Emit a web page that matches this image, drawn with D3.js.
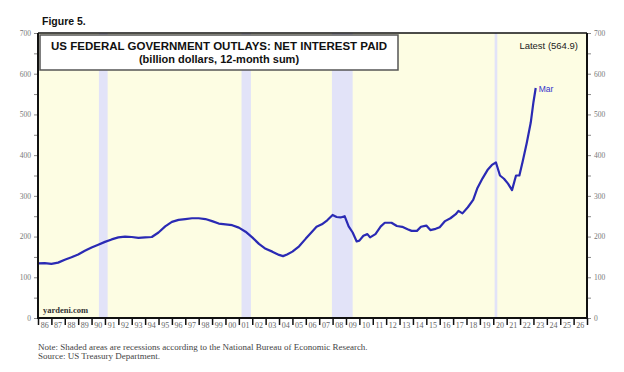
<!DOCTYPE html>
<html>
<head>
<meta charset="utf-8">
<script src="https://cdn.jsdelivr.net/npm/d3@7"></script>
<style>
  body { margin: 0; background: #fff; }
  svg { display: block; }
</style>
</head>
<body>
<svg id="chart" width="624" height="372"></svg>
<script>
// Net interest paid, billion dollars, 12-month sum
const yearPts = [
  1986.0, 1986.5, 1987.0, 1987.5, 1988.0, 1988.5, 1989.0, 1989.5, 1990.0, 1990.5,
  1991.0, 1991.5, 1992.0, 1992.5, 1993.0, 1993.5, 1994.0, 1994.5, 1995.0, 1995.5,
  1996.0, 1996.5, 1997.0, 1997.5, 1998.0, 1998.5, 1999.0, 1999.5, 2000.0, 2000.5,
  2001.0, 2001.5, 2002.0, 2002.5, 2003.0, 2003.5, 2004.0, 2004.3, 2004.6, 2005.0,
  2005.5, 2006.0, 2006.5, 2006.8, 2007.2, 2007.6, 2008.0, 2008.3, 2008.6, 2008.9,
  2009.2, 2009.5, 2009.8, 2010.0, 2010.3, 2010.6, 2010.8, 2011.2, 2011.6, 2011.9,
  2012.4, 2012.8, 2013.2, 2013.6, 2013.9, 2014.3, 2014.6, 2015.0, 2015.3, 2015.7,
  2016.0, 2016.4, 2016.8, 2017.2, 2017.4, 2017.7, 2018.1, 2018.5, 2018.8, 2019.2,
  2019.6, 2019.9, 2020.2, 2020.5, 2020.8, 2021.1, 2021.4, 2021.7, 2021.95, 2022.2,
  2022.5, 2022.8, 2023.0, 2023.17
];
const interest = [
  134, 135, 133, 136, 143, 149, 156, 165, 173, 180,
  187, 193, 198, 200, 199, 197, 198, 199, 210, 225,
  236, 241, 243, 245, 245, 243, 238, 232, 230, 228,
  222, 212, 198, 182, 170, 163, 155, 152, 156, 163,
  176, 195, 213, 224, 230, 240, 253, 248, 247, 250,
  225, 210, 188, 190, 202, 206, 198, 206, 225, 234,
  234, 226, 224, 218, 214, 214, 224, 227, 216, 219,
  223, 238, 245, 255, 263, 257, 272, 290, 318, 343,
  365, 376, 382, 350, 342, 330, 314, 350, 350, 385,
  430, 480, 530, 564.9
];

// recessions (start, end as decimal years)
const recStart = [1990.55, 2001.2, 2007.95, 2020.1];
const recEnd   = [1991.2, 2001.9, 2009.5, 2020.3];

const yearLabels = d3.range(1986, 2027).map(y => String(y).slice(2));

const svg = d3.select("#chart");
const pLeft = 38, pRight = 587, pTop = 33, pBottom = 318;

const x = d3.scaleLinear().domain([1986, 2027]).range([pLeft, pRight]);
const y = d3.scaleLinear().domain([0, 700]).range([pBottom, pTop]);

// plot background
svg.append("rect")
  .attr("x", pLeft).attr("y", pTop)
  .attr("width", pRight - pLeft).attr("height", pBottom - pTop)
  .attr("fill", "#fdfde3");

// recession bands
svg.selectAll(".rec")
  .data(recStart)
  .enter()
  .append("rect")
  .attr("class", "rec")
  .attr("x", (d) => x(d))
  .attr("width", (d, i) => Math.max(2, x(recEnd[i]) - x(d)))
  .attr("y", pTop)
  .attr("height", pBottom - pTop)
  .attr("fill", "#e2e3f8");

// title box
svg.append("rect")
  .attr("x", 40).attr("y", 35)
  .attr("width", 358).attr("height", 35)
  .attr("fill", "#fff")
  .attr("stroke", "#555")
  .attr("stroke-width", 1.5);

svg.append("text")
  .attr("x", 219).attr("y", 50)
  .attr("text-anchor", "middle")
  .attr("font-family", "Liberation Sans, Arial, sans-serif")
  .attr("font-weight", "bold")
  .attr("font-size", 11.5)
  .attr("fill", "#111")
  .text("US FEDERAL GOVERNMENT OUTLAYS: NET INTEREST PAID");

svg.append("text")
  .attr("x", 219).attr("y", 63)
  .attr("text-anchor", "middle")
  .attr("font-family", "Liberation Sans, Arial, sans-serif")
  .attr("font-weight", "bold")
  .attr("font-size", 11)
  .attr("fill", "#111")
  .text("(billion dollars, 12-month sum)");

svg.append("text")
  .attr("x", 578).attr("y", 49)
  .attr("text-anchor", "end")
  .attr("font-family", "Liberation Sans, Arial, sans-serif")
  .attr("font-size", 9.5)
  .attr("fill", "#222")
  .text("Latest (564.9)");

svg.append("text")
  .attr("x", 42).attr("y", 25)
  .attr("font-family", "Liberation Sans, Arial, sans-serif")
  .attr("font-weight", "bold")
  .attr("font-size", 10.5)
  .attr("fill", "#111")
  .text("Figure 5.");

// the line
const line = d3.line()
  .x((d, i) => x(yearPts[i]))
  .y((d) => y(d))
  .curve(d3.curveLinear);

svg.append("path")
  .datum(interest)
  .attr("d", line)
  .attr("fill", "none")
  .attr("stroke", "#2a2ab4")
  .attr("stroke-width", 2.2)
  .attr("stroke-linejoin", "round");

const last = interest.length - 1;
svg.append("text")
  .attr("x", x(yearPts[last]) + 3)
  .attr("y", y(interest[last]) + 4)
  .attr("font-family", "Liberation Sans, Arial, sans-serif")
  .attr("font-size", 8.5)
  .attr("fill", "#3333cc")
  .text("Mar");

svg.append("text")
  .attr("x", 43).attr("y", 313)
  .attr("font-family", "Liberation Serif, Times New Roman, serif")
  .attr("font-weight", "bold")
  .attr("font-size", 8.5)
  .attr("fill", "#333")
  .text("yardeni.com");

// y axes, minor ticks at 50
const yMinor = d3.range(0, 701, 50);
const leftAxis = d3.axisLeft(y).tickValues(yMinor).tickSize(4)
  .tickFormat((d) => (d % 100 === 0 ? d : ""));
const rightAxis = d3.axisRight(y).tickValues(yMinor).tickSize(4)
  .tickFormat((d) => (d % 100 === 0 ? d : ""));

function styleY(g) {
  g.select(".domain").remove();
  g.selectAll(".tick line").attr("stroke", "#888");
  g.selectAll(".tick text")
    .attr("font-family", "Liberation Serif, Times New Roman, serif")
    .attr("font-size", 7.5)
    .attr("fill", "#777");
}
svg.append("g").attr("transform", `translate(${pLeft},0)`).call(leftAxis).call(styleY);
svg.append("g").attr("transform", `translate(${pRight},0)`).call(rightAxis).call(styleY);

// x axis: tick at each year, label in between
const xAxis = d3.axisBottom(x)
  .tickValues(d3.range(1986, 2028))
  .tickSize(7)
  .tickFormat("");
const gx = svg.append("g").attr("transform", `translate(0,${pBottom})`).call(xAxis);
gx.select(".domain").remove();
gx.selectAll(".tick line").attr("stroke", "#111").attr("stroke-width", 1.5);

gx.selectAll(".yl")
  .data(yearLabels)
  .enter()
  .append("text")
  .attr("class", "yl")
  .attr("x", (d, i) => x(1986 + i + 0.5))
  .attr("y", 10)
  .attr("text-anchor", "middle")
  .attr("font-family", "Liberation Serif, Times New Roman, serif")
  .attr("font-size", 8)
  .attr("fill", "#666")
  .text((d) => d);

// frame
svg.append("line").attr("x1", pLeft).attr("x2", pRight).attr("y1", pTop).attr("y2", pTop)
  .attr("stroke", "#111").attr("stroke-width", 1.5);
svg.append("line").attr("x1", pLeft).attr("x2", pLeft).attr("y1", pTop).attr("y2", pBottom)
  .attr("stroke", "#111").attr("stroke-width", 2);
svg.append("line").attr("x1", pRight).attr("x2", pRight).attr("y1", pTop).attr("y2", pBottom)
  .attr("stroke", "#111").attr("stroke-width", 2);
svg.append("line").attr("x1", pLeft - 1).attr("x2", pRight + 1).attr("y1", pBottom).attr("y2", pBottom)
  .attr("stroke", "#111").attr("stroke-width", 2);

// notes
const notes = [
  "Note: Shaded areas are recessions according to the National Bureau of Economic Research.",
  "Source: US Treasury Department."
];
svg.selectAll(".note")
  .data(notes)
  .enter()
  .append("text")
  .attr("class", "note")
  .attr("x", 38)
  .attr("y", (d, i) => 350 + i * 9)
  .attr("font-family", "Liberation Serif, Times New Roman, serif")
  .attr("font-size", 9)
  .attr("fill", "#444")
  .text((d) => d);
</script>
</body>
</html>
